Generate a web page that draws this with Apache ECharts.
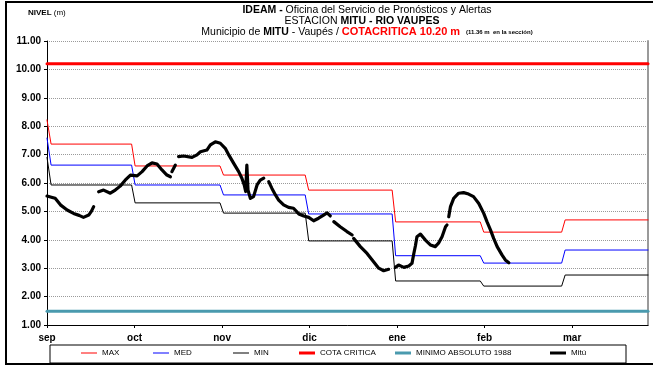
<!DOCTYPE html>
<html>
<head>
<meta charset="utf-8">
<script src="https://cdn.jsdelivr.net/npm/echarts@6/dist/echarts.min.js"></script>
<style>
  html, body { margin: 0; padding: 0; background: #fff; }
  #chart { width: 653px; height: 366px; }
</style>
</head>
<body>
<div id="chart"></div>
<script>
// Month labels on the time axis (one tick every 30 days from 1 Sep)
const monthLabels = ['sep', 'oct', 'nov', 'dic', 'ene', 'feb', 'mar'];
const monthTickDays = [0, 30, 60, 90, 120, 150, 180];
const axisEndDay = 206;

// Monthly reference levels (m): initial value, then one level per month
const stepDays = [0.8, 29.6, 59.9, 89.1, 118.9, 149.1, 177.0];
const maxLevels = [8.22, 7.37, 6.60, 6.28, 5.75, 4.63, 4.27, 4.70];
const medLevels = [7.58, 6.63, 5.93, 5.58, 4.91, 3.44, 3.18, 3.64];
const minLevels = [6.90, 5.93, 5.30, 4.94, 3.96, 2.55, 2.37, 2.76];

// Fixed thresholds (m)
const cotaCritica = 10.20;
const minimoAbsoluto1988 = 1.48;

// Observed daily levels at Mitú (null = no record)
const mituDays = [
  0, 1.5, 2.8, 4.6, 6.9, 9.1, 11, 12.5, 14.3, 15.2, 16, 16.8,
  17.7, 19.4, 21.7, 23.4, 25.1, 26.8, 28.6, 30.9, 32.6, 34.3, 36, 37.7, 39.4, 41.1, 42.3, 42.5,
  42.8, 44, 44.5,
  45.1, 46.8, 49.7, 51.4, 52.6, 54.8, 56, 57.7, 59.4, 61.1, 62.3, 64, 65.7, 66.8, 67.6,
  68.1, 68.5, 68.9, 69.7, 70.8, 72, 73.1, 74.3, 75.1,
  76, 77.1, 78.3, 79.4, 81.1, 82.8, 84.5, 86.3, 88, 89.7, 91.4, 93.1, 94.8, 96, 97.1, 97.7,
  98.3, 100.5, 102.8, 104.6, 104.8,
  105.1, 107.4, 109.7, 111.4, 113.7, 115.4, 117.1, 118.2,
  119.4, 120.5, 122.3, 124, 125.1, 125.7, 126.3, 126.8, 128, 129.7, 131.4, 133.1, 134.2, 135.4, 136.6, 137.1, 137.4,
  137.7, 138.3, 139.4, 141.1, 142.8, 144.5, 146.2, 148, 149.7, 150.8, 152, 153.1, 154.3, 156, 157.1, 158.3
];
const mituLevels = [
  5.54, 5.50, 5.46, 5.23, 5.05, 4.93, 4.86, 4.79, 4.87, 5.00, 5.17, null,
  5.69, 5.75, 5.64, 5.75, 5.89, 6.10, 6.28, 6.25, 6.40, 6.60, 6.71, 6.67, 6.46, 6.28, 6.22, null,
  6.40, 6.63, null,
  6.93, 6.95, 6.90, 6.99, 7.10, 7.16, 7.34, 7.45, 7.40, 7.22, 6.99, 6.69, 6.40, 6.17, 5.93,
  5.70, 6.63, 5.75, 5.46, 5.52, 5.93, 6.10, 6.17, null,
  6.05, 5.81, 5.58, 5.40, 5.23, 5.14, 5.11, 4.91, 4.84, 4.79, 4.67, 4.76, 4.87, 4.95, 4.84, null,
  4.64, 4.46, 4.29, 4.17, null,
  4.05, 3.76, 3.52, 3.30, 3.00, 2.91, 2.96, null,
  3.03, 3.11, 3.03, 3.08, 3.17, 3.50, 3.80, 4.11, 4.20, 3.99, 3.82, 3.76, 3.88, 4.11, 4.46, 4.52, null,
  4.81, 5.17, 5.46, 5.64, 5.66, 5.61, 5.52, 5.28, 4.93, 4.64, 4.35, 4.05, 3.76, 3.46, 3.29, 3.19
];

const FONT = '"Liberation Sans", Arial, sans-serif';

// Monthly levels become a stepped path with short ramps at each change
function stepPath(levels) {
  const pts = [[0, levels[0]]];
  stepDays.forEach((d, i) => {
    pts.push([d - 0.6, levels[i]], [d + 0.6, levels[i + 1]]);
  });
  pts.push([axisEndDay, levels[levels.length - 1]]);
  return pts;
}
function flatPath(v) { return [[0, v], [axisEndDay, v]]; }
const mituData = mituDays.map((d, i) => [d, mituLevels[i] === null ? '-' : mituLevels[i]]);

function lineSeries(name, data, color, width) {
  return {
    name, type: 'line', data, showSymbol: false, symbol: 'none',
    lineStyle: { color, width, cap: 'round', join: 'round' }, itemStyle: { color },
    connectNulls: false, animation: false, silent: true
  };
}

const legendSpec = [
  { name: 'MAX', left: 81, h: 1 },
  { name: 'MED', left: 153, h: 1 },
  { name: 'MIN', left: 233, h: 1 },
  { name: 'COTA CRITICA', left: 299, h: 3 },
  { name: 'MINIMO ABSOLUTO 1988', left: 395, h: 3 },
  { name: 'Mitú', left: 550, h: 3 }
];

const chart = echarts.init(document.getElementById('chart'), null, { renderer: 'canvas' });
chart.setOption({
  animation: false,
  backgroundColor: '#fff',
  grid: { left: 47, right: 5, top: 41, bottom: 41 },
  xAxis: {
    type: 'value', min: 0, max: axisEndDay,
    axisLine: { lineStyle: { color: '#000', width: 1 } },
    axisTick: { customValues: monthTickDays, length: 3, lineStyle: { color: '#000' } },
    axisLabel: {
      customValues: monthTickDays, margin: 8,
      color: '#000', fontWeight: 'bold', fontSize: 10, fontFamily: FONT,
      formatter: v => monthLabels[Math.round(v / 30)] || ''
    },
    splitLine: { show: false }
  },
  yAxis: [{
    type: 'value', min: 1, max: 11, interval: 1,
    axisLine: { show: true, lineStyle: { color: '#000', width: 1 } },
    axisTick: { show: true, length: 3, lineStyle: { color: '#000' } },
    axisLabel: {
      margin: 6, color: '#000', fontWeight: 'bold', fontSize: 10, fontFamily: FONT,
      formatter: v => v.toFixed(2)
    },
    splitLine: { show: true, lineStyle: { color: '#9a9a9a', type: [1, 1], width: 1 } }
  }, {
    type: 'value', min: 1, max: 11, interval: 1, position: 'right',
    axisLine: { show: true, lineStyle: { color: '#9a9a9a', width: 2 } },
    axisTick: { show: false }, axisLabel: { show: false }, splitLine: { show: false }
  }],
  legend: legendSpec.map(l => ({
    data: [l.name], left: l.left, top: 349, icon: 'rect',
    itemWidth: 16, itemHeight: l.h, padding: 0, selectedMode: false,
    textStyle: { color: '#000', fontSize: 8, fontFamily: FONT }
  })),
  series: [
    lineSeries('MAX', stepPath(maxLevels), '#ff0000', 1),
    lineSeries('MED', stepPath(medLevels), '#0000ff', 1),
    lineSeries('MIN', stepPath(minLevels), '#000000', 1),
    lineSeries('COTA CRITICA', flatPath(cotaCritica), '#ff0000', 3),
    lineSeries('MINIMO ABSOLUTO 1988', flatPath(minimoAbsoluto1988), '#4a9aae', 3),
    lineSeries('Mitú', mituData, '#000000', 3.2)
  ],
  graphic: [
    { type: 'rect', shape: { x: 6, y: 2, width: 700, height: 362 },
      style: { fill: 'none', stroke: '#000', lineWidth: 2 }, silent: true },
    { type: 'rect', shape: { x: 50, y: 345, width: 576, height: 18 },
      style: { fill: 'none', stroke: '#000', lineWidth: 1 }, silent: true, z: -1 },
    { type: 'text', x: 28, y: 13, silent: true,
      style: { text: '{b|NIVEL} (m)', fill: '#000', font: '8px ' + FONT, align: 'left', verticalAlign: 'middle',
        rich: { b: { fontWeight: 'bold', fontSize: 8, fontFamily: FONT, fill: '#000' } } } },
    { type: 'text', x: 367, y: 10, silent: true,
      style: { text: '{b|IDEAM -} Oficina del Servicio de Pronósticos y Alertas', fill: '#000',
        font: '10.5px ' + FONT, align: 'center', verticalAlign: 'middle',
        rich: { b: { fontWeight: 'bold', fontSize: 10.5, fontFamily: FONT, fill: '#000' } } } },
    { type: 'text', x: 362, y: 21, silent: true,
      style: { text: 'ESTACION {b|MITU - RIO VAUPES}', fill: '#000',
        font: '10.5px ' + FONT, align: 'center', verticalAlign: 'middle',
        rich: { b: { fontWeight: 'bold', fontSize: 10.5, fontFamily: FONT, fill: '#000' } } } },
    { type: 'text', x: 367, y: 32, silent: true,
      style: { text: 'Municipio de {b|MITU} - Vaupés / {r|COTACRITICA 10.20 m}  {s|(11.36 m  en la sección)}', fill: '#000',
        font: '10.5px ' + FONT, align: 'center', verticalAlign: 'middle',
        rich: {
          b: { fontWeight: 'bold', fontSize: 10.5, fontFamily: FONT, fill: '#000' },
          r: { fontWeight: 'bold', fontSize: 11, fontFamily: FONT, fill: '#ff0000' },
          s: { fontWeight: 'bold', fontSize: 6, fontFamily: FONT, fill: '#000' }
        } } }
  ]
});
</script>
</body>
</html>
